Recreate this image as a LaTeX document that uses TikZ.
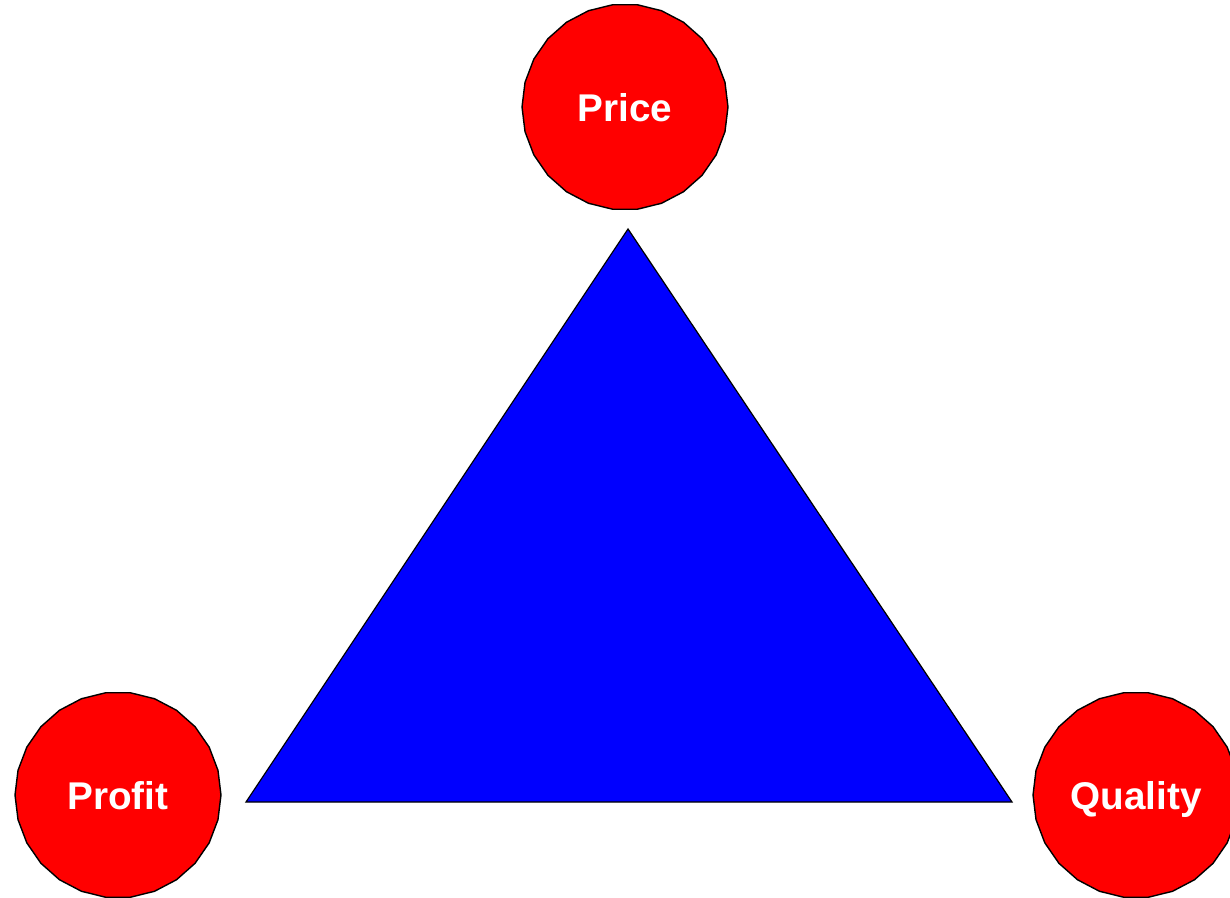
\documentclass[tikz,border=0pt]{standalone}
\usepackage{fontspec}
\setmainfont{Liberation Sans}
\usetikzlibrary{shapes.geometric}

\begin{document}
\begin{tikzpicture}[x=0.02cm, y=-0.02cm,
  ball/.style={regular polygon, regular polygon sides=26, draw=black, line width=0.8pt, fill=red,
    minimum size=4.12cm, inner sep=0pt, text=white, text height=16pt, text depth=0pt,
    font=\fontsize{22}{26}\selectfont\bfseries},
  tri/.style={draw=black, line width=0.7pt, fill=blue}]
\useasboundingbox (0,0) rectangle (1230,898);
% corners of the triangle
\coordinate (top) at (628,229);
\coordinate (bl) at (246,802);
\coordinate (br) at (1012,802);
\draw[tri] (top) -- (bl) -- (br) -- cycle;
% the three labels
\node[ball] (price) at (625,107) {Price};
\node[ball] (profit) at (118,795) {Profit};
\node[ball] (quality) at (1136,795) {Quality};
\end{tikzpicture}
\end{document}
